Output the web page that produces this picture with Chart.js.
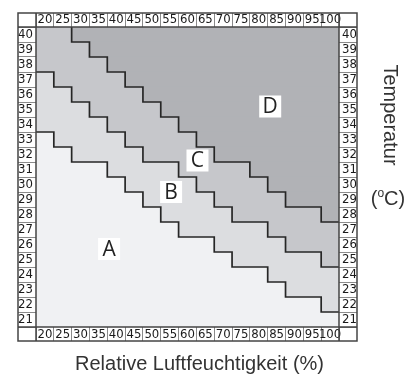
<!DOCTYPE html>
<html>
<head>
<meta charset="utf-8">
<script src="https://cdn.jsdelivr.net/npm/chart.js@4.4.1/dist/chart.umd.min.js"></script>
<style>
  html, body { margin: 0; padding: 0; background: #fff; }
</style>
</head>
<body>
<canvas id="chart-zones" width="417" height="376"></canvas>
<script>
const temps = [40, 39, 38, 37, 36, 35, 34, 33, 32, 31, 30, 29, 28, 27, 26, 25, 24, 23, 22, 21];
const humidityTicks = [20, 25, 30, 35, 40, 45, 50, 55, 60, 65, 70, 75, 80, 85, 90, 95, 100];
const tempTicks = [21, 22, 23, 24, 25, 26, 27, 28, 29, 30, 31, 32, 33, 34, 35, 36, 37, 38, 39, 40];

// first humidity column of each zone, per temperature row (null = zone not reached)
const zoneBStart = [20, 20, 20, 20, 20, 20, 20, 25, 30, 40, 45, 50, 55, 60, 70, 75, 85, 90, 100, null];
const zoneCStart = [20, 20, 20, 25, 30, 35, 40, 45, 50, 60, 65, 70, 75, 85, 90, 100, null, null, null, null];
const zoneDStart = [30, 35, 40, 45, 50, 55, 60, 65, 70, 80, 85, 90, 100, null, null, null, null, null, null, null];

const zoneNames = ['A', 'B', 'C', 'D'];
const zoneColors = ['#f0f1f3', '#dcdde0', '#c6c7cb', '#b1b2b6'];
// where the zone letters sit (humidity, temperature)
const zoneLabelX = [38, 55.4, 62.8, 83.2];
const zoneLabelY = [25.7, 29.5, 31.6, 35.2];

const xTitle = 'Relative Luftfeuchtigkeit (%)';
const yTitle = 'Temperatur';
const yUnit = ['(', 'o', 'C)'];

const half = (humidityTicks[1] - humidityTicks[0]) / 2;
const xMin = humidityTicks[0] - half;
const xMax = humidityTicks[humidityTicks.length - 1] + half;
const yMin = tempTicks[0] - 0.5;
const yMax = tempTicks[tempTicks.length - 1] + 0.5;
const edge = v => v === null ? xMax : v - half;

const bounds = [null, zoneBStart, zoneCStart, zoneDStart, null];

function zoneBars(k) {
    return temps.map((t, i) => ({
        y: t,
        x: [k === 0 ? xMin : edge(bounds[k][i]), k === 3 ? xMax : edge(bounds[k + 1][i])]
    })).filter(d => d.x[1] > d.x[0]);
}

function stairLine(starts) {
    const pts = [];
    temps.forEach((t, i) => {
        const x = edge(starts[i]);
        pts.push({ x, y: t + 0.5 }, { x, y: t - 0.5 });
    });
    // drop the parts running along the left / right border
    while (pts.length > 1 && pts[1].x <= xMin) pts.shift();
    while (pts.length > 1 && pts[pts.length - 2].x >= xMax) pts.pop();
    return pts;
}

const tickFont = { family: "'Liberation Sans Narrow', 'Arial Narrow', 'DejaVu Sans Condensed', sans-serif", size: 13 };

function humidityAxis(position) {
    return {
        type: 'linear', axis: 'x', position, min: xMin, max: xMax, offset: false,
        afterBuildTicks: s => { s.ticks = humidityTicks.map(v => ({ value: v })); },
        afterFit: s => { s.height = 14; },
        grid: { offset: true, drawOnChartArea: false, tickLength: 14, color: '#8a8a8a' },
        border: { display: false },
        ticks: { autoSkip: false, maxRotation: 0, minRotation: 0, padding: -14.6, color: '#1a1a1a', font: tickFont }
    };
}

function tempAxis(position) {
    return {
        type: 'linear', axis: 'y', position, min: yMin, max: yMax, offset: false, beginAtZero: false,
        afterBuildTicks: s => { s.ticks = tempTicks.map(v => ({ value: v })); },
        afterFit: s => { s.width = 18; },
        grid: { offset: true, drawOnChartArea: false, tickLength: 18, color: '#8a8a8a' },
        border: { display: false },
        ticks: { autoSkip: false, crossAlign: 'center', padding: -15, color: '#1a1a1a', font: tickFont }
    };
}

const tableFrame = {
    id: 'tableFrame',
    afterDraw(chart) {
        const { ctx, chartArea: a, scales } = chart;
        const l = scales.y.left, r = scales.y2.right, t = scales.x2.top, b = scales.x.bottom;
        ctx.save();
        ctx.strokeStyle = '#444';
        ctx.lineWidth = 1.5;
        ctx.strokeRect(l, t, r - l, b - t);
        ctx.beginPath();
        ctx.moveTo(l, a.top); ctx.lineTo(r, a.top);
        ctx.moveTo(l, a.bottom); ctx.lineTo(r, a.bottom);
        ctx.moveTo(a.left, t); ctx.lineTo(a.left, b);
        ctx.moveTo(a.right, t); ctx.lineTo(a.right, b);
        ctx.stroke();
        ctx.restore();
    }
};

const zoneLetters = {
    id: 'zoneLetters',
    afterDatasetsDraw(chart) {
        const { ctx, scales: { x, y } } = chart;
        ctx.save();
        ctx.font = "21px 'Open Sans', sans-serif";
        ctx.textAlign = 'center';
        ctx.textBaseline = 'middle';
        zoneNames.forEach((name, i) => {
            const px = x.getPixelForValue(zoneLabelX[i]);
            const py = y.getPixelForValue(zoneLabelY[i]);
            ctx.fillStyle = '#fff';
            ctx.fillRect(px - 11, py - 11, 22, 22);
            ctx.fillStyle = '#222';
            ctx.fillText(name, px, py + 1);
        });
        ctx.restore();
    }
};

const axisTitles = {
    id: 'axisTitles',
    afterDraw(chart) {
        const { ctx, chartArea: a, scales } = chart;
        ctx.save();
        ctx.fillStyle = '#333';
        ctx.font = "20px 'Liberation Sans', Arial, sans-serif";
        ctx.textBaseline = 'alphabetic';
        ctx.textAlign = 'center';
        ctx.fillText(xTitle, (a.left + a.right) / 2 + 12, scales.x.bottom + 29);

        ctx.save();
        ctx.translate(scales.y2.right + 27, a.top + 88);
        ctx.rotate(Math.PI / 2);
        ctx.fillText(yTitle, 0, 0);
        ctx.restore();

        // (°C) with a raised small o
        const big = "20px 'Liberation Sans', Arial, sans-serif";
        const small = "12px 'Liberation Sans', Arial, sans-serif";
        ctx.textAlign = 'left';
        ctx.font = big; const w0 = ctx.measureText(yUnit[0]).width; const w2 = ctx.measureText(yUnit[2]).width;
        ctx.font = small; const w1 = ctx.measureText(yUnit[1]).width;
        let ux = scales.y2.right + 31 - (w0 + w1 + w2) / 2;
        const uy = a.top + 178;
        ctx.font = big; ctx.fillText(yUnit[0], ux, uy); ux += w0;
        ctx.font = small; ctx.fillText(yUnit[1], ux, uy - 8); ux += w1;
        ctx.font = big; ctx.fillText(yUnit[2], ux, uy);
        ctx.restore();
    }
};

const datasets = [
    ...[zoneDStart, zoneCStart, zoneBStart].map(starts => ({
        type: 'scatter',
        data: stairLine(starts),
        showLine: true,
        pointRadius: 0,
        borderColor: '#262626',
        borderWidth: 1.7,
        borderJoinStyle: 'miter',
        xAxisID: 'x', yAxisID: 'y',
        order: 0
    })),
    ...zoneNames.map((name, k) => ({
        type: 'bar',
        label: name,
        indexAxis: 'y',
        data: zoneBars(k),
        backgroundColor: zoneColors[k],
        borderWidth: 0,
        grouped: false,
        barPercentage: 1,
        categoryPercentage: 1,
        xAxisID: 'x', yAxisID: 'y',
        order: 1
    }))
];

new Chart(document.getElementById('chart-zones'), {
    type: 'bar',
    data: { datasets },
    options: {
        responsive: false,
        devicePixelRatio: 1,
        animation: false,
        layout: { padding: { left: 18, top: 13, right: 60, bottom: 35 } },
        plugins: { legend: { display: false }, tooltip: { enabled: false }, title: { display: false } },
        scales: {
            x: humidityAxis('bottom'),
            x2: humidityAxis('top'),
            y: tempAxis('left'),
            y2: tempAxis('right')
        }
    },
    plugins: [zoneLetters, tableFrame, axisTitles]
});
</script>
</body>
</html>
